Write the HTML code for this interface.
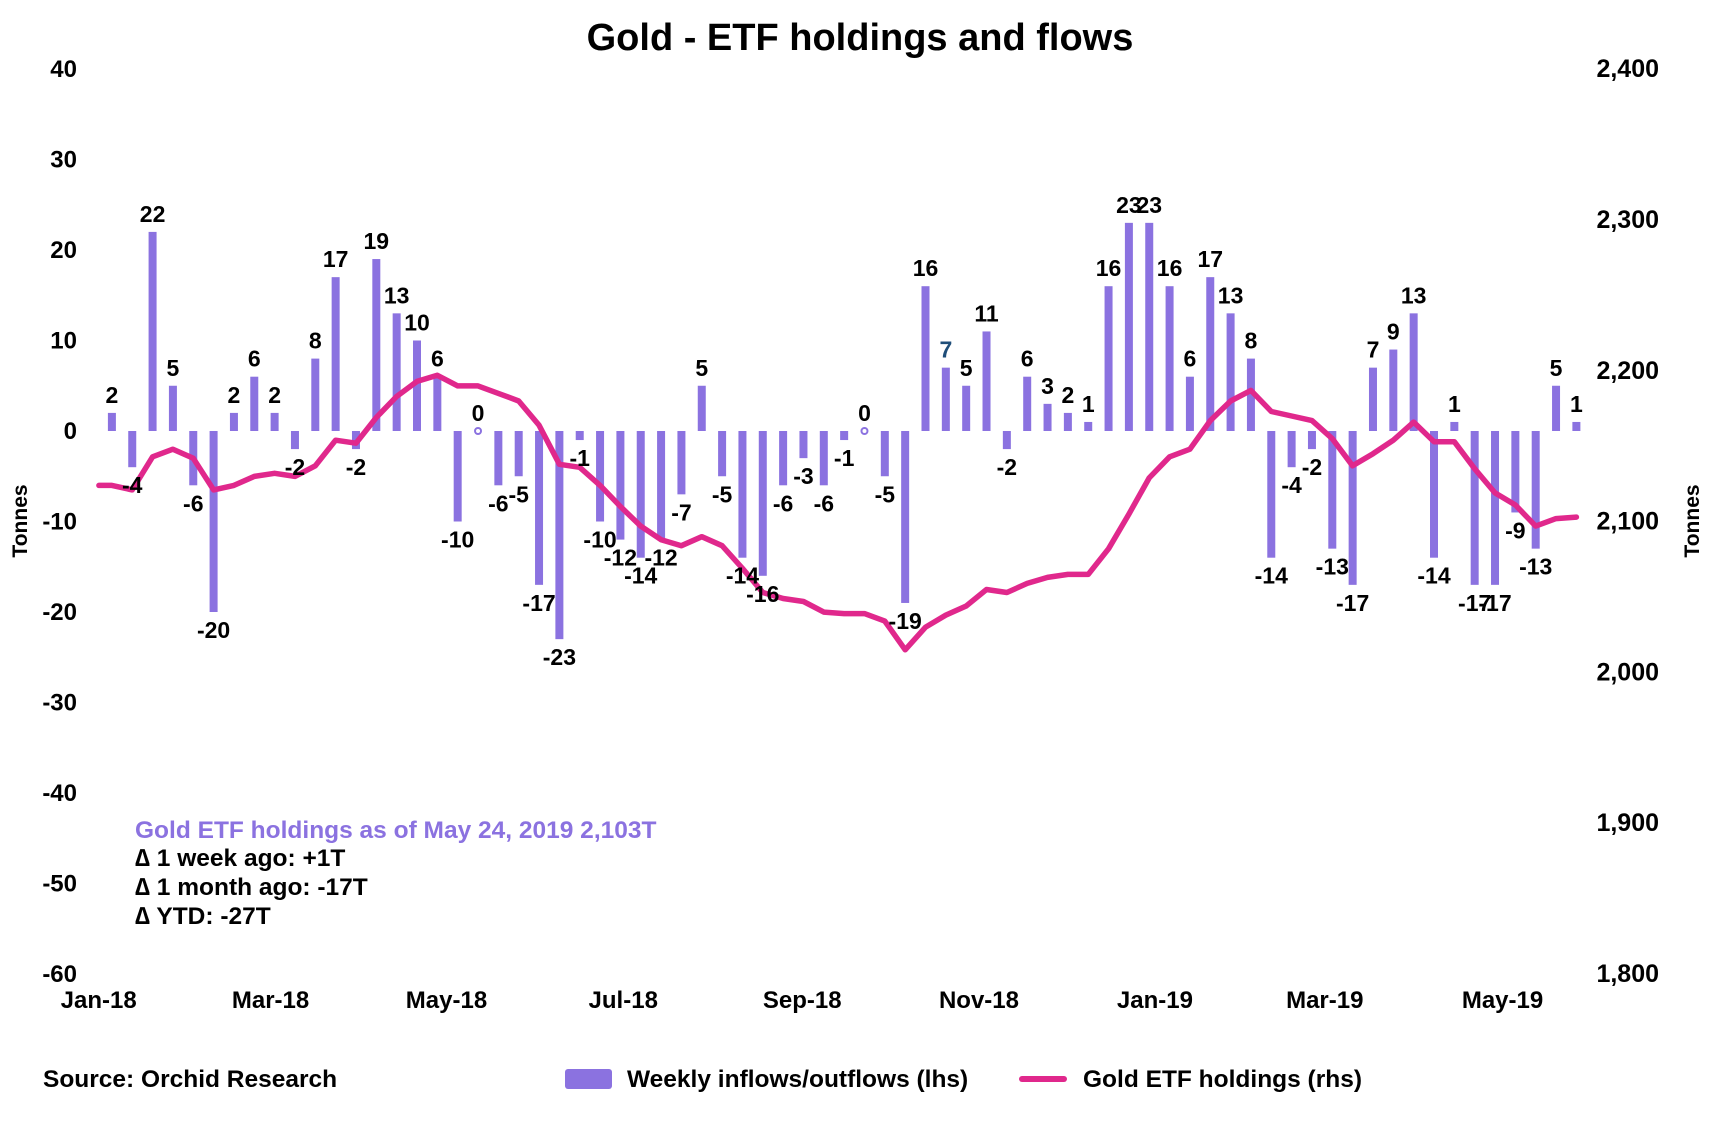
<!DOCTYPE html>
<html><head><meta charset="utf-8"><style>
html,body{margin:0;padding:0;background:#fff;}
svg{display:block;font-family:"Liberation Sans",Arial,sans-serif;font-weight:bold;}
</style></head><body>
<svg id="chart" width="1711" height="1123" viewBox="0 0 1711 1123">
<text x="860" y="50" font-size="38" text-anchor="middle">Gold - ETF holdings and flows</text>
<g id="axes"></g>
<g id="bars"></g>
<g id="line"></g>
<g id="labels"></g>
<text transform="translate(27,521) rotate(-90)" font-size="21" text-anchor="middle">Tonnes</text>
<text transform="translate(1699,521) rotate(-90)" font-size="21" text-anchor="middle">Tonnes</text>
<g font-size="24.5">
<text x="135" y="838" fill="#8B72E0">Gold ETF holdings as of May 24, 2019 2,103T</text>
<text x="135" y="866">∆ 1 week ago: +1T</text>
<text x="135" y="895">∆ 1 month ago: -17T</text>
<text x="135" y="924">∆ YTD: -27T</text>
</g>
<text x="43" y="1087" font-size="24.5">Source: Orchid Research</text>
<g>
<rect x="565" y="1069" width="47" height="20" rx="3" fill="#8B72E0"/>
<text x="627" y="1087" font-size="24.5">Weekly inflows/outflows (lhs)</text>
<line x1="1022" y1="1079" x2="1064" y2="1079" stroke="#E0288C" stroke-width="6" stroke-linecap="round"/>
<text x="1083" y="1087" font-size="24.5">Gold ETF holdings (rhs)</text>
</g>
</svg>
<script>
const flows = [2,-4,22,5,-6,-20,2,6,2,-2,8,17,-2,19,13,10,6,-10,0,-6,-5,-17,-23,-1,-10,-12,-14,-12,-7,5,-5,-14,-16,-6,-3,-6,-1,0,-5,-19,16,7,5,11,-2,6,3,2,1,16,23,23,16,6,17,13,8,-14,-4,-2,-13,-17,7,9,13,-14,1,-17,-17,-9,-13,5,1];
const holdings = [2124,2121,2143,2148,2142,2121,2124,2130,2132,2130,2137,2154,2152,2169,2183,2193,2197,2190,2190,2185,2180,2164,2138,2136,2124,2110,2097,2088,2084,2090,2084,2069,2053,2049,2047,2040,2039,2039,2034,2015,2030,2038,2044,2055,2053,2059,2063,2065,2065,2082,2105,2129,2143,2148,2167,2180,2187,2173,2170,2167,2155,2137,2145,2154,2166,2153,2153,2135,2119,2111,2097,2102,2103];
const leftTicks = [40,30,20,10,0,-10,-20,-30,-40,-50,-60];
const rightTicks = ["2,400","2,300","2,200","2,100","2,000","1,900","1,800"];
const rightTickVals = [2400,2300,2200,2100,2000,1900,1800];
const monthLabels = ["Jan-18","Mar-18","May-18","Jul-18","Sep-18","Nov-18","Jan-19","Mar-19","May-19"];
const monthWeekIdx = [-0.65,7.8,16.45,25.14,33.94,42.63,51.28,59.63,68.37];

const NS="http://www.w3.org/2000/svg";
const x0=111.9, step=20.34;
const xs=i=>x0+i*step;
const yL=v=>431-v*9.05;
const yR=h=>974-(h-1800)*1.508;
function mk(tag,attrs,parent,txt){const e=document.createElementNS(NS,tag);for(const k in attrs)e.setAttribute(k,attrs[k]);if(txt!==undefined)e.textContent=txt;parent.appendChild(e);return e;}
const axes=document.getElementById('axes'),bars=document.getElementById('bars'),line=document.getElementById('line'),labels=document.getElementById('labels');
leftTicks.forEach(t=>{const e=mk('text',{x:77,y:yL(t)+8,'font-size':24,'text-anchor':'end'},axes,String(t));

});
rightTickVals.forEach((t,i)=>{const e=mk('text',{x:1659,y:yR(t)+8,'font-size':25,'text-anchor':'end'},axes,rightTicks[i]);

});
monthLabels.forEach((m,i)=>{const e=mk('text',{x:xs(monthWeekIdx[i]),y:1008,'font-size':24,'text-anchor':'middle'},axes,m);

});
flows.forEach((v,i)=>{
  const x=xs(i), y0=yL(0), y1=yL(v);
  const top=Math.min(y0,y1), h=Math.max(Math.abs(y1-y0),1.5);
  if(v===0){const c=mk('circle',{cx:x,cy:y0,r:3,fill:'none',stroke:'#8B72E0','stroke-width':2},bars);
    
    }
  else{const r=mk('rect',{x:x-4,y:top,width:8,height:h,fill:'#8B72E0'},bars);
    
    }
  const ly = v>=0 ? y1-10 : y1+26;
  const t=mk('text',{x:x,y:ly,'font-size':23,'text-anchor':'middle',fill:(i===41?'#1F4E79':'#000')},labels,String(v));
  
  
});
let d='M'+(xs(0)-13)+','+yR(holdings[0]);
holdings.forEach((h,i)=>{d+=' L'+xs(i).toFixed(1)+','+yR(h).toFixed(1);});
const p=mk('path',{d:d,fill:'none',stroke:'#E0288C','stroke-width':5.5,'stroke-linejoin':'round','stroke-linecap':'round'},line);


</script>
</body></html>
